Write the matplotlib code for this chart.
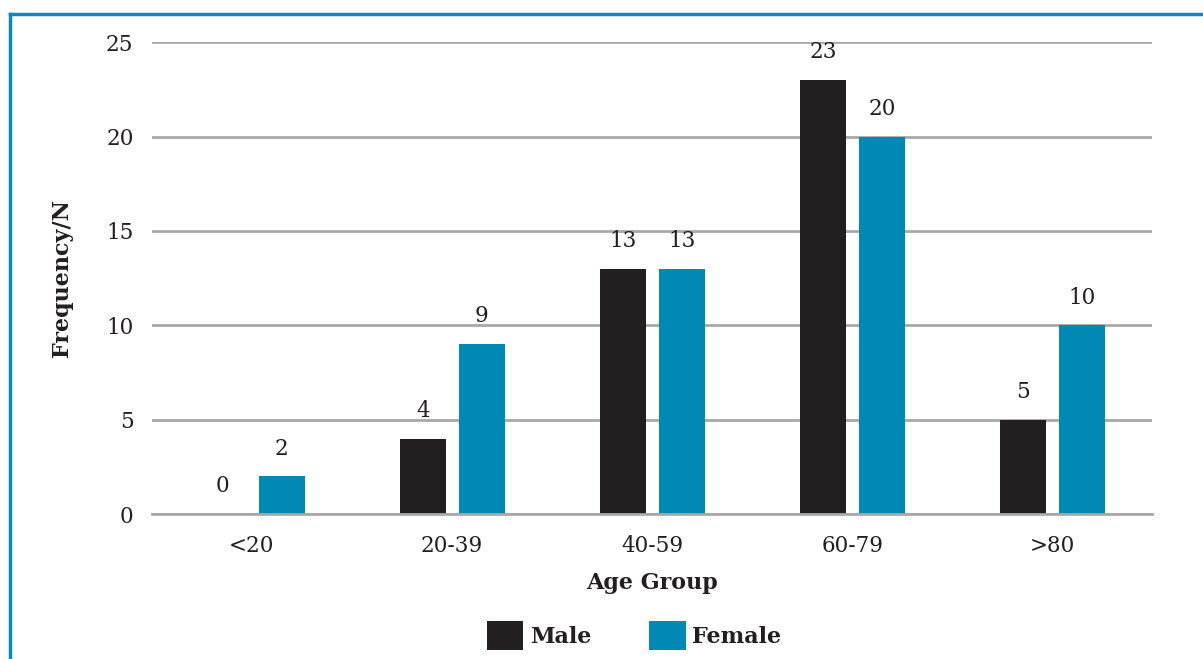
import matplotlib
matplotlib.use("Agg")
import matplotlib.pyplot as plt
from matplotlib.lines import Line2D
from matplotlib.patches import Patch
import numpy as np

categories = ["<20", "20-39", "40-59", "60-79", ">80"]
male = [0, 4, 13, 23, 5]
female = [2, 9, 13, 20, 10]
yticks = [0, 5, 10, 15, 20, 25]

MALE_C = "#231f20"
FEMALE_C = "#0089b5"
TXT = "#231f20"

plt.rcParams['font.family'] = ['DejaVu Serif']

fig = plt.figure(figsize=(12.03, 6.59), dpi=100)
ax = fig.add_axes([0.126, 0.22, 0.832, 0.716])

x = np.arange(len(categories))
w = 0.23
bm = ax.bar(x - 0.145, male, w, color=MALE_C, zorder=3)
bf = ax.bar(x + 0.15, female, w, color=FEMALE_C, zorder=3)

for rect, v in zip(bm, male):
    ax.annotate(str(v), (rect.get_x() + rect.get_width() / 2, v), xytext=(0, 12),
                textcoords="offset points", ha="center", va="bottom", fontsize=15.5, color=TXT)
for rect, v in zip(bf, female):
    ax.annotate(str(v), (rect.get_x() + rect.get_width() / 2, v), xytext=(0, 12),
                textcoords="offset points", ha="center", va="bottom", fontsize=15.5, color=TXT)

ax.set_xlim(-0.5, len(categories) - 0.5)
ax.set_ylim(0, 25)
ax.set_yticks(yticks)
ax.set_xticks(x)
ax.set_xticklabels(categories)
ax.tick_params(axis="both", length=0, labelsize=15.5, colors=TXT)
ax.tick_params(axis="y", pad=13)
ax.tick_params(axis="x", pad=15)
ax.yaxis.grid(True, color="#a8a8a8", linewidth=2, zorder=0)
for s in ["top", "right", "left"]:
    ax.spines[s].set_visible(False)
ax.spines["bottom"].set_color("#a8a8a8")
ax.spines["bottom"].set_linewidth(2)
ax.spines["bottom"].set_zorder(4)

ax.set_xlabel("Age Group", fontsize=16, fontweight="bold", color=TXT, labelpad=11)
ax.set_ylabel("Frequency/N", fontsize=16, fontweight="bold", color=TXT, labelpad=24)

handles = [Patch(facecolor=MALE_C, label="Male"), Patch(facecolor=FEMALE_C, label="Female")]
leg = fig.legend(handles=handles, loc="center", bbox_to_anchor=(0.527, 0.036), ncol=2,
                 frameon=False, handlelength=1.65, handleheight=1.6, handletextpad=0.3,
                 columnspacing=2.6, prop={"size": 16, "weight": "bold"})
for t in leg.get_texts():
    t.set_color(TXT)

# teal frame lines (left and top)
BORDER = "#0a8ab8"
fig.add_artist(Line2D([0.0083, 0.0083], [0, 0.979], transform=fig.transFigure, color=BORDER, linewidth=2.5))
fig.add_artist(Line2D([0.0083, 1.0], [0.979, 0.979], transform=fig.transFigure, color=BORDER, linewidth=2.5))

fig.savefig("out.png", dpi=100)
